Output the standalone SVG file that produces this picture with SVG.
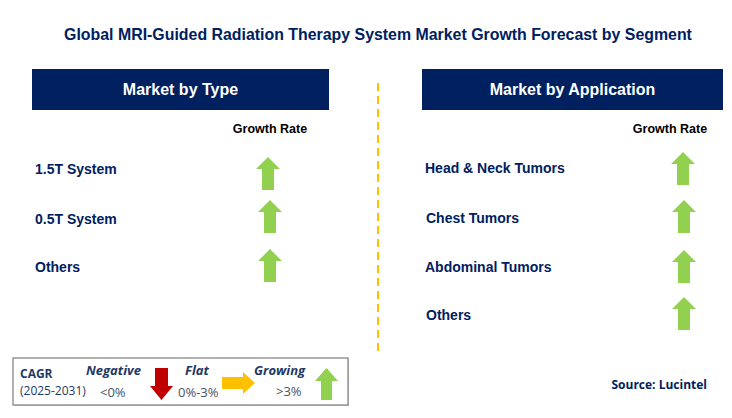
<svg xmlns="http://www.w3.org/2000/svg" width="732" height="418" viewBox="0 0 732 418">
<style>
.title{font-family:"Liberation Sans",Arial,sans-serif;font-weight:bold;font-size:15.9px;fill:#002060}
.hdr{fill:#002060}
.hdrt{font-family:"Liberation Sans",Arial,sans-serif;font-weight:bold;font-size:16px;fill:#ffffff}
.gr{font-family:"Liberation Sans",Arial,sans-serif;font-weight:bold;font-size:12.5px;fill:#000000}
.item{font-family:"Liberation Sans",Arial,sans-serif;font-weight:bold;font-size:14px;fill:#002060}
.up{fill:#92D050}
.lg{font-family:"Open Sans","Liberation Sans",sans-serif;font-size:12px;fill:#1F3864}
.lgb{font-family:"Open Sans","Liberation Sans",sans-serif;font-size:13px;font-weight:bold;font-style:italic;fill:#1F3864}
.lgv{font-family:"Open Sans","Liberation Sans",sans-serif;font-size:13px;fill:#44546A}
.src{font-family:"Open Sans","Liberation Sans",sans-serif;font-weight:bold;font-size:12px;fill:#002060}
</style>
<defs>
<path id="upArrow" d="M12 0 L24 12 L18 12 L18 33 L6 33 L6 12 L0 12 Z"/>
</defs>
<rect width="732" height="418" fill="#ffffff"/>
<text class="title" x="378" y="40" text-anchor="middle">Global MRI-Guided Radiation Therapy System Market Growth Forecast by Segment</text>

<g id="type-header">
<rect class="hdr" x="32" y="69" width="297" height="41"/>
<text class="hdrt" x="180.5" y="95" text-anchor="middle">Market by Type</text>
</g>
<g id="app-header">
<rect class="hdr" x="422" y="69" width="301" height="41"/>
<text class="hdrt" x="572.5" y="95" text-anchor="middle">Market by Application</text>
</g>

<text class="gr" x="270" y="133" text-anchor="middle">Growth Rate</text>
<text class="gr" x="670" y="133" text-anchor="middle">Growth Rate</text>

<g id="type-1-5t"><text class="item" x="35" y="174">1.5T System</text><use href="#upArrow" class="up" x="256" y="157"/></g>
<g id="type-0-5t"><text class="item" x="35" y="224">0.5T System</text><use href="#upArrow" class="up" x="258" y="200"/></g>
<g id="type-others"><text class="item" x="35" y="272">Others</text><use href="#upArrow" class="up" x="258" y="249"/></g>

<g id="app-head-neck"><text class="item" x="425" y="173">Head &amp; Neck Tumors</text><use href="#upArrow" class="up" x="671" y="152"/></g>
<g id="app-chest"><text class="item" x="426" y="223">Chest Tumors</text><use href="#upArrow" class="up" x="672" y="200"/></g>
<g id="app-abdominal"><text class="item" x="425" y="272">Abdominal Tumors</text><use href="#upArrow" class="up" x="672" y="250"/></g>
<g id="app-others"><text class="item" x="426" y="320">Others</text><use href="#upArrow" class="up" x="672" y="297"/></g>

<g id="connectors">
<line x1="378" y1="83" x2="378" y2="352" stroke="#FFC000" stroke-width="2" stroke-dasharray="8,5"/>
</g>

<g id="legend">
<rect x="14" y="359" width="335" height="47" fill="#9a9a9a" opacity="0.5"/>
<rect x="13" y="358" width="335" height="47" fill="#ffffff" stroke="#7F7F7F" stroke-width="1.2"/>
<text class="lg" x="20" y="378" font-weight="bold">CAGR</text>
<text class="lg" x="20" y="395">(2025-2031)</text>
<text class="lgb" x="86" y="375">Negative</text>
<text class="lgv" x="100" y="397">&lt;0%</text>
<path d="M155 368 L168 368 L168 386 L173 386 L161.5 400 L150 386 L155 386 Z" fill="#C00000"/>
<text class="lgb" x="185" y="375">Flat</text>
<text class="lgv" x="178" y="397">0%-3%</text>
<path d="M222 377 L243 377 L243 372 L255 383 L243 394 L243 389 L222 389 Z" fill="#FFC000"/>
<text class="lgb" x="254" y="375">Growing</text>
<text class="lgv" x="276" y="396">&gt;3%</text>
<path d="M326.5 368 L338 381 L332 381 L332 400 L321 400 L321 381 L315 381 Z" fill="#92D050"/>
</g>

<text class="src" x="707" y="389" text-anchor="end">Source: Lucintel</text>
</svg>
